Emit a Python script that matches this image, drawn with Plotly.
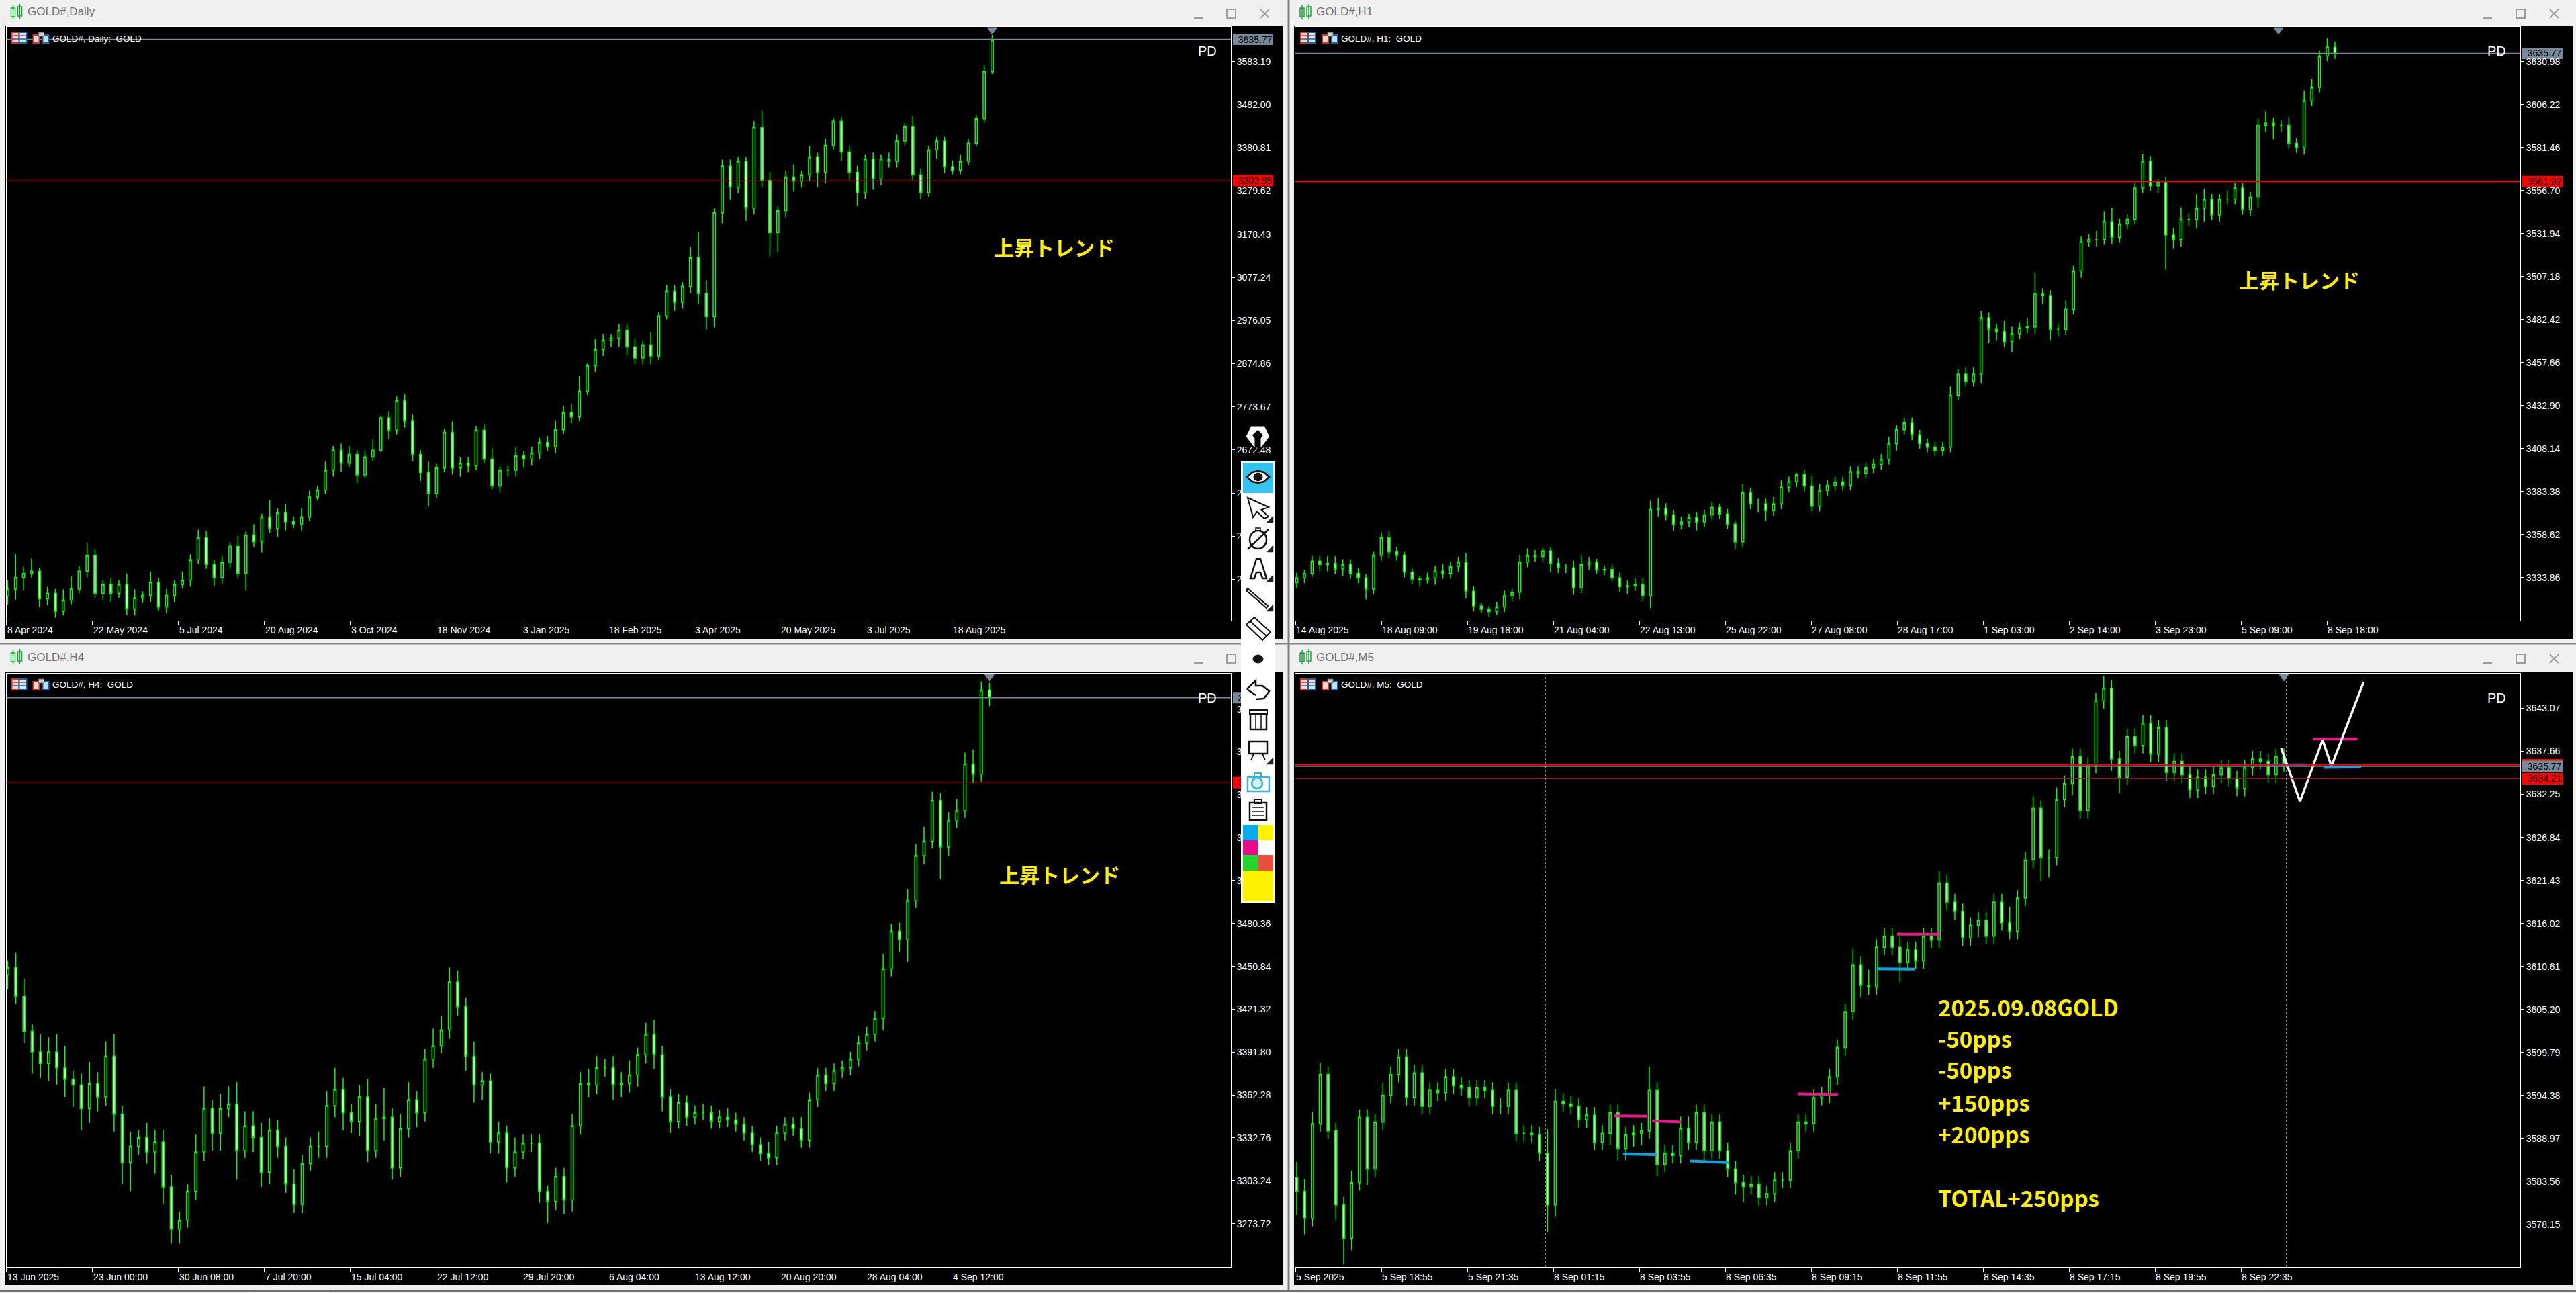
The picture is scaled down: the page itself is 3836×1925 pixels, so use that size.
import plotly.graph_objects as go

W, H = 3836, 1925

# ---------- DAILY ----------
daily_close = [
 2346,2373,2383,2388,2323,2336,2294,2320,2346,2388,
 2425,2336,2357,2336,2357,2299,2325,2331,2362,2304,
 2331,2357,2367,2415,2467,2404,2373,2409,2446,2383,
 2473,2457,2515,2488,2525,2504,2499,2515,2562,2578,
 2625,2672,2641,2662,2614,2656,2672,2748,2719,2788,
 2740,2662,2620,2570,2630,2714,2630,2641,2635,2719,
 2651,2588,2625,2625,2659,2651,2665,2690,2680,2720,
 2760,2750,2810,2870,2908,2930,2935,2953,2914,2888,
 2919,2893,2987,3045,3019,3056,3124,3040,2985,3229,
 3339,3289,3350,3240,3429,3305,3182,3234,3313,3303,
 3318,3360,3324,3387,3444,3371,3324,3276,3355,3308,
 3355,3350,3397,3431,3318,3276,3376,3397,3337,3329,
 3350,3392,3450,3560,3634]
daily_up = [
 20,55,15,30,8,15,10,25,30,12,
 30,15,10,15,10,25,20,10,25,10,
 15,10,20,12,18,15,10,15,10,25,
 10,25,8,40,10,20,12,20,15,10,
 20,10,15,20,10,15,25,5,15,10,
 15,15,10,25,10,8,25,15,15,10,
 15,25,8,10,20,10,15,10,15,20,
 15,20,35,5,25,15,10,15,15,20,
 10,30,10,15,15,10,25,60,30,10,
 15,15,10,10,15,40,20,10,15,30,
 10,25,10,15,8,10,15,15,10,15,
 10,15,15,8,25,15,10,10,10,15,
 15,10,8,15,12]
daily_down = [
 20,25,30,10,20,15,15,10,10,10,
 15,10,15,20,10,15,15,10,15,8,
 15,15,10,15,10,10,20,15,15,10,
 40,12,25,10,20,20,10,15,10,8,
 10,15,20,10,20,8,10,5,20,10,
 15,15,20,30,10,10,15,20,15,10,
 10,8,15,15,15,20,15,15,10,15,
 10,15,10,8,15,15,15,20,20,15,
 15,20,10,8,20,15,15,25,30,25,
 25,30,15,30,15,15,55,45,15,25,
 15,15,35,25,10,20,20,30,15,25,
 15,15,15,10,15,15,10,20,15,10,
 10,10,8,10,5]
daily_yticks = [3583.19,3482.00,3380.81,3279.62,3178.43,3077.24,2976.05,2874.86,2773.67,2672.48,2571.29,2470.10,2368.91]
daily_xlabels = ["8 Apr 2024","22 May 2024","5 Jul 2024","20 Aug 2024","3 Oct 2024","18 Nov 2024","3 Jan 2025","18 Feb 2025","3 Apr 2025","20 May 2025","3 Jul 2025","18 Aug 2025"]

# ---------- H1 ----------
h1_close = [
 3333.8,3336.3,3343.4,3341.5,3342.1,3338.9,3341.5,3336.3,3333.8,3327.3,
 3346.7,3357,3348.6,3346.7,3337,3333.1,3332.5,3333.8,3337.6,3336.3,
 3340.2,3342.8,3326,3317.6,3315.7,3314.4,3317,3323.4,3325.4,3342.8,
 3346.7,3346,3349.2,3342.1,3339.6,3339.6,3328,3341.5,3342.8,3338.3,
 3338.6,3333.8,3328.6,3329.2,3329.9,3323.4,3373.1,3373.7,3369.9,3364.7,
 3366,3368.6,3366,3369.9,3374.4,3370.5,3364.7,3354.4,3382.8,3376.3,
 3376.3,3372.4,3376.3,3386,3389.2,3393.1,3386.6,3375,3384,3387,
 3389,3387,3395,3394,3397,3399,3402,3411,3419,3423,
 3416,3411,3409,3407,3409,3439,3451,3447,3451,3483.4,
 3476.9,3475.6,3469.8,3474.3,3477.6,3478.2,3497.5,3496.3,3476.9,3476.9,
 3488.5,3510.4,3527.2,3528.5,3528.5,3538.8,3529.8,3537.5,3540.1,3558.2,
 3573.6,3559.4,3561.4,3531.1,3528.5,3540.1,3540.1,3546.6,3551.7,3542.7,
 3551.7,3551.7,3558.2,3545.9,3553,3594.3,3595.6,3594.3,3594.3,3583.9,
 3581.4,3608.4,3616.2,3634.2,3639.4,3635.5]
h1_up = [
 3,2,3,3,4,4,3,3,3,2,
 2,3,4,3,2,2,2,3,3,4,
 3,3,5,3,2,2,3,3,2,4,
 4,3,2,2,3,2,4,5,3,2,
 2,3,3,3,4,4,5,6,3,3,
 3,2,3,3,3,2,3,2,5,3,
 3,3,4,4,3,1,3,6,4,3,
 3,3,3,3,3,3,3,4,3,3,
 3,3,3,3,3,5,3,4,4,4,
 3,3,6,4,3,5,12,3,3,3,
 5,3,3,3,5,6,8,3,3,3,
 4,3,2,3,4,7,3,8,6,3,
 3,5,3,3,3,4,7,3,3,5,
 3,6,5,3,5,3]
h1_down = [
 3,3,2,4,4,3,4,3,3,6,
 3,3,3,3,3,3,4,2,4,3,
 3,3,4,3,2,3,2,3,3,4,
 3,3,3,5,3,3,4,3,3,2,
 3,2,3,4,3,3,7,4,3,4,
 3,3,5,3,3,3,3,4,3,3,
 5,6,3,3,3,3,3,3,3,3,
 3,3,3,3,3,3,3,3,4,3,
 3,3,3,3,3,3,3,3,3,5,
 8,5,3,6,3,3,4,5,6,4,
 3,3,4,3,4,3,4,3,3,3,
 3,3,4,20,5,4,4,5,8,3,
 4,3,3,3,4,6,4,8,4,3,
 3,4,3,3,3,3]
h1_yticks = [3630.98,3606.22,3581.46,3556.70,3531.94,3507.18,3482.42,3457.66,3432.90,3408.14,3383.38,3358.62,3333.86]
h1_xlabels = ["14 Aug 2025","18 Aug 09:00","19 Aug 18:00","21 Aug 04:00","22 Aug 13:00","25 Aug 22:00","27 Aug 08:00","28 Aug 17:00","1 Sep 03:00","2 Sep 14:00","3 Sep 23:00","5 Sep 09:00","8 Sep 18:00"]

# ---------- H4 ----------
h4_close = [
 3450,3430,3406,3392,3384,3392,3381,3373,3369,3353,
 3370,3361,3389,3349,3316,3327,3333,3323,3330,3299,
 3270,3276,3296,3323,3353,3336,3353,3356,3324,3341,
 3333,3309,3338,3327,3301,3287,3315,3327,3327,3355,
 3366,3350,3344,3361,3324,3346,3347,3312,3339,3359,
 3350,3387,3396,3407,3440,3423,3389,3369,3372,3330,
 3336,3312,3323,3329,3329,3296,3289,3306,3290,3341,
 3370,3369,3381,3381,3369,3370,3376,3390,3404,3390,
 3361,3344,3357,3347,3350,3350,3344,3347,3345,3342,
 3336,3328,3322,3319,3336,3342,3339,3331,3359,3376,
 3370,3379,3381,3387,3398,3404,3415,3449,3475,3469,
 3496,3527,3537,3565,3533,3551,3558,3590,3583,3641,
 3636]
h4_up = [
 5,10,12,5,12,10,12,15,6,8,
 15,8,10,15,6,10,5,10,8,8,
 8,6,5,12,15,6,10,12,15,10,
 10,10,8,7,6,10,6,6,10,10,
 15,8,6,8,12,10,20,6,10,12,
 6,7,12,10,10,8,6,10,6,5,
 8,5,10,6,6,6,4,6,6,8,
 8,10,8,6,8,8,10,5,8,10,
 6,5,6,5,5,6,5,5,6,5,
 5,5,5,8,5,5,5,8,5,5,
 5,5,5,5,5,5,5,10,5,6,
 8,8,10,6,5,6,8,8,10,6,
 5]
h4_down = [
 10,5,8,15,10,12,12,12,15,15,
 10,10,6,12,15,20,6,8,15,12,
 10,10,5,6,6,12,12,6,20,5,
 10,10,8,8,6,6,6,5,8,8,
 8,12,8,10,8,5,15,8,6,6,
 10,6,6,5,6,6,10,12,10,8,
 8,10,6,5,6,8,15,6,10,8,
 6,8,6,6,10,8,6,8,6,10,
 10,8,5,6,5,5,5,5,5,5,
 5,5,5,5,5,5,5,5,5,5,
 5,5,5,5,5,5,5,8,5,8,
 15,5,6,5,22,6,5,5,6,5,
 6]
h4_yticks = [3627.96,3598.44,3568.92,3539.40,3509.88,3480.36,3450.84,3421.32,3391.80,3362.28,3332.76,3303.24,3273.72]
h4_xlabels = ["13 Jun 2025","23 Jun 00:00","30 Jun 08:00","7 Jul 20:00","15 Jul 04:00","22 Jul 12:00","29 Jul 20:00","6 Aug 04:00","13 Aug 12:00","20 Aug 20:00","28 Aug 04:00","4 Sep 12:00"]

# ---------- M5 ----------
m5_close = [
 3582.3,3578.9,3590.8,3597,3589.9,3580.6,3576.4,3583.4,3591.6,3585.1,
 3591,3594.4,3597,3599.2,3594.1,3597.2,3593,3595,3594.7,3596.7,
 3595.6,3595.3,3594.1,3595.3,3595,3593,3593,3595,3589.6,3589.6,
 3589.4,3587.1,3580.6,3593.6,3593.3,3593,3591.3,3591.9,3588.5,3589.6,
 3592.2,3587.7,3589.4,3589.6,3589.9,3595,3585.7,3587.1,3586.8,3590.2,
 3588.5,3592.2,3587.4,3591,3587.4,3585.1,3583.4,3582.9,3583.2,3581.5,
 3582,3583.7,3583.7,3587.4,3591,3590.8,3594.1,3594.4,3596.7,3600.4,
 3604.9,3610.8,3608.2,3608,3613,3614.4,3613,3611.1,3612.7,3611.3,
 3614.4,3613.9,3621.1,3618.7,3617.5,3614.2,3615.8,3616.4,3614.4,3618.7,
 3616.1,3615,3619.2,3624,3630.5,3624.3,3624.3,3631.6,3633.6,3637,
 3630.2,3635.9,3644,3645.6,3636.7,3634.4,3639.5,3638.4,3641.2,3637.3,
 3640.6,3635,3636.4,3634.7,3632.8,3634.4,3633.3,3634.7,3635.6,3634.2,
 3633,3635.6,3636.7,3636.4,3634.7,3637,3636.1]
m5_up = [
 2,1.5,1.5,1.5,1,1,1,1.5,1,1,
 1,1.5,1,1,1,1,1,1,1,1,
 1,1,1,1,1,1,1,1,1,1,
 1,1,3,1.5,1,1,1,1,1,1,
 1,1,1,1,1,3,1,1,1,1.5,
 1.5,1,1,1,1,1,1,1,1,1,
 1,1,1,1,1,1,1,1,1,1,
 1,2,1,2,1,1,1,2,1,1,
 1,1,1.5,1,1,1,1,1,1,1,
 1,2,1,1,1.5,1,1,1.5,1,1,
 1,1,1,1.5,1,1,1,1,1,1,
 1,1,1,1,1,1,1,1,1,1,
 1,1,1,1,1,1,1]
m5_down = [
 3,2,1,1,1,2,3.3,1.5,1,2,
 1,1,1,1,1,1,1,1,1,1,
 1,1,1,1,1,1,1,1,1,1,
 1,1,3.4,1.5,1,1,1,1,1,1,
 1.5,1.5,1.5,1.5,1.5,1,1.5,1,1,1,
 1,1,1.5,1,1,1,1.5,2,1,1,
 1,1,1,1,1,1,1,1,1,1,
 1,1,1.5,1,1,1,1,2.5,1,1,
 1,1,1,1,1,1,1,1.5,1,1,
 1,1,1,1,1,3,2.5,1,1,1.5,
 1,1,1,1,1.5,2,1,1,1,1,
 1,1,1,1,1,1,1,1,1,1,
 1,1,1,1,1,1,1]
m5_yticks = [3643.07,3637.66,3632.25,3626.84,3621.43,3616.02,3610.61,3605.20,3599.79,3594.38,3588.97,3583.56,3578.15]
m5_xlabels = ["5 Sep 2025","5 Sep 18:55","5 Sep 21:35","8 Sep 01:15","8 Sep 03:55","8 Sep 06:35","8 Sep 09:15","8 Sep 11:55","8 Sep 14:35","8 Sep 17:15","8 Sep 19:55","8 Sep 22:35"]

# hand-drawn marks on the M5 chart: (bar0, price0, bar1, price1)
pink_marks = [(118.8,3591.8,131,3591.75),(132.8,3591.15,143.5,3591.0),(187,3594.55,202,3594.5),(224,3614.66,240,3614.66),(378.8,3639.2,395.4,3639.2)]
blue_marks = [(122,3587.0,134.5,3586.9),(147,3586.1,161.5,3585.9),(216.4,3610.3,230.7,3610.25),(363.5,3635.96,376.8,3635.96),(382.8,3635.63,396.8,3635.71)]
zigzag_bars = [367,374,382.4,385.7,397.7]
zigzag_price = [3638.05,3631.35,3639.1,3635.8,3646.4]
m5_separators = [93,369]

# panel facts
BARS_PER_TICK = 32
panels = [
 dict(ax="",  over="5", name="GOLD#,Daily", hdr="GOLD#, Daily:  GOLD", box=(9.5,40,1833,924),  yr=(2271.9,3665.1), c=daily_close,u=daily_up,d=daily_down,yt=daily_yticks,xl=daily_xlabels,last=367,bid=3635.77,red=3304.0,redtxt="3303.95",first=2330,tri=367),
 dict(ax="2", over="6", name="GOLD#,H1",    hdr="GOLD#, H1:  GOLD",    box=(1929,40,3753,924), yr=(3309.1,3651.0), c=h1_close,u=h1_up,d=h1_down,yt=h1_yticks,xl=h1_xlabels,last=387,bid=3635.77,red=3561.9,redtxt="3561.92",first=3331,tri=366),
 dict(ax="3", over="7", name="GOLD#,H4",    hdr="GOLD#, H4:  GOLD",    box=(9.5,1003,1833,1887),yr=(3243.5,3652.3),c=h4_close,u=h4_up,d=h4_down,yt=h4_yticks,xl=h4_xlabels,last=366,bid=3635.77,red=3577.3,redtxt="3577.30",first=3445,tri=366),
 dict(ax="4", over="8", name="GOLD#,M5",    hdr="GOLD#, M5:  GOLD",    box=(1929,1003,3753,1887),yr=(3572.71,3647.43),c=m5_close,u=m5_up,d=m5_down,yt=m5_yticks,xl=m5_xlabels,last=368,bid=3635.77,red=3634.21,redtxt="3634.21",first=3584,tri=368),
]

fx = lambda x: x / W
fy = lambda y: 1 - y / H
shapes, annos = [], []

def rect(x0,y0,x1,y1,fill=None,line=None,w=1,layer="above"):
    shapes.append(dict(type="rect",xref="paper",yref="paper",x0=fx(x0),x1=fx(x1),y0=fy(y0),y1=fy(y1),
        fillcolor=fill if fill else "rgba(0,0,0,0)",line=dict(color=line if line else "rgba(0,0,0,0)",width=w if line else 0),layer=layer))
def seg(x0,y0,x1,y1,color="#000",w=1,layer="above"):
    shapes.append(dict(type="line",xref="paper",yref="paper",x0=fx(x0),x1=fx(x1),y0=fy(y0),y1=fy(y1),line=dict(color=color,width=w),layer=layer))
def poly(pts,fill=None,line="#000",w=2,close=True,layer="above"):
    p="M"+" L".join(f"{fx(a):.6f},{fy(b):.6f}" for a,b in pts)+(" Z" if close else "")
    shapes.append(dict(type="path",xref="paper",yref="paper",path=p,fillcolor=fill if fill else "rgba(0,0,0,0)",line=dict(color=line,width=w),layer=layer))
def oval(x0,y0,x1,y1,fill=None,line="#000",w=2,layer="above"):
    shapes.append(dict(type="circle",xref="paper",yref="paper",x0=fx(x0),x1=fx(x1),y0=fy(y0),y1=fy(y1),fillcolor=fill if fill else "rgba(0,0,0,0)",line=dict(color=line,width=w),layer=layer))
def text(x,y,t,size=14,color="#fff",fam="Liberation Sans",anchor="left"):
    annos.append(dict(xref="paper",yref="paper",x=fx(x),y=fy(y),text=t,showarrow=False,xanchor=anchor,yanchor="middle",
        font=dict(family=fam,size=size,color=color),borderpad=0,borderwidth=0))

# window chrome: black client areas on the light frame
LIGHT="#f0f0f0"
for bx in [(7,38,1911,951),(1927,38,3831,951),(7,1000,1911,1913),(1927,1000,3831,1913)]:
    rect(*bx,fill="#000",layer="below")
seg(1919,0,1919,1921,"#808080",3,"below")
seg(0,958.5,3836,958.5,"#808080",2,"below")
seg(0,1922,3836,1922,"#707070",2,"below")
rect(370,1923,490,1925,fill="#fff",layer="below")

fig = go.Figure()
layout = {}
for p in panels:
    L,T,R,B = p["box"]
    ax = p["ax"]
    xname, yname = "x"+ax, "y"+ax
    o = [p["first"]] + p["c"][:-1]
    n = len(p["c"])
    bars = [0.5 + (p["last"]-0.5)*i/(n-1) for i in range(n)]
    hi = [max(a,b)+u for a,b,u in zip(o,p["c"],p["u"])]
    lo = [min(a,b)-d for a,b,d in zip(o,p["c"],p["d"])]
    fig.add_trace(go.Candlestick(x=bars,open=o,high=hi,low=lo,close=p["c"],xaxis=xname,yaxis=yname,
        increasing=dict(line=dict(color="#00ff00",width=1.5),fillcolor="#000000"),
        decreasing=dict(line=dict(color="#00ff00",width=1.5),fillcolor="#e8ffe8"),
        whiskerwidth=0,hoverinfo="skip",showlegend=False))
    nbars = (R-L)/4
    tv = [k*BARS_PER_TICK for k in range(len(p["xl"]))]
    layout["xaxis"+ax] = dict(domain=[fx(L),fx(R)],range=[0,nbars],anchor=yname,showgrid=False,zeroline=False,
        showline=True,mirror=True,linecolor="#fff",linewidth=1,ticks="outside",ticklen=5,tickcolor="#fff",tickwidth=1,
        tickmode="array",tickvals=tv,showticklabels=False,rangeslider=dict(visible=False),fixedrange=True)
    layout["yaxis"+ax] = dict(domain=[fy(B),fy(T)],range=list(p["yr"]),anchor=xname,side="right",showgrid=False,zeroline=False,
        showline=True,mirror=True,linecolor="#fff",linewidth=1,ticks="outside",ticklen=5,tickcolor="#fff",tickwidth=1,
        tickmode="array",tickvals=p["yt"],ticktext=[f"{v:.2f}" for v in p["yt"]],
        tickfont=dict(family="Liberation Sans",size=14,color="#fff"),fixedrange=True)
    # black price labels sit on an overlay axis so the toolbar can cover them
    ov = p["over"]
    layout["yaxis"+ov] = dict(overlaying=yname,domain=[fy(B),fy(T)],range=list(p["yr"]),anchor=xname,side="right",showgrid=False,zeroline=False,
        showline=False,ticks="outside",ticklen=7,tickcolor="rgba(0,0,0,0)",tickmode="array",
        tickvals=[p["bid"],p["red"]],ticktext=[f'{p["bid"]:.2f}',p["redtxt"]],
        tickfont=dict(family="Liberation Sans",size=14,color="#000"),fixedrange=True)
    fig.add_trace(go.Scatter(x=[1],y=[p["bid"]],mode="markers",marker=dict(opacity=0,size=1),xaxis=xname,yaxis="y"+ov,hoverinfo="skip",showlegend=False))
    # x labels, left-aligned on their ticks
    for k,lab in zip(tv,p["xl"]):
        annos.append(dict(xref=xname,yref="paper",x=k,y=fy(B+14),text=lab,showarrow=False,xanchor="left",yanchor="middle",
            xshift=-1,font=dict(family="Liberation Sans",size=14,color="#fff")))
    # price lines
    shapes.append(dict(type="line",xref=xname+" domain",yref=yname,x0=0,x1=1,y0=p["bid"],y1=p["bid"],line=dict(color="#778899",width=1.5),layer="above"))
    shapes.append(dict(type="line",xref=xname+" domain",yref=yname,x0=0,x1=1,y0=p["red"],y1=p["red"],line=dict(color="#e00000",width=1),layer="above"))
    # price boxes
    ppx = (B-T)/(p["yr"][1]-p["yr"][0])
    yb = T+(p["yr"][1]-p["bid"])*ppx
    yr_ = T+(p["yr"][1]-p["red"])*ppx
    bx0,bx1 = R+3,R+63
    if ax=="4":
        rect(bx0,yb-11,bx1,yb+6,fill="#ff0000",layer="below")
    rect(bx0,yb-8.5,bx1,yb+8.5,fill="#778899",layer="below")
    rect(bx0,yr_-8.5,bx1,yr_+8.5,fill="#ff0000",layer="below")
    # last-bar triangle
    poly([(L+p["tri"]*4-7,T+1),(L+p["tri"]*4+7,T+1),(L+p["tri"]*4,T+11)],fill="#778899",line="#778899",w=1)
    # PD
    text(R-21,T+36,"PD",size=20,anchor="right")
    # header
    text(L+68,T+17,p["hdr"],size=13.5)
    ix = L+8
    iy = T+8
    rect(ix,iy,ix+11,iy+16,fill="#ffd5d0",line="#d0352b",w=2)
    rect(ix+11,iy,ix+22,iy+16,fill="#d5e9fb",line="#1565b0",w=2)
    for dy in (5,10):
        seg(ix,iy+dy,ix+22,iy+dy,"#d0352b" if dy==5 else "#1565b0",1.5)
    rect(ix+32,iy+4,ix+41,iy+16,fill="#ffd5d0",line="#d0352b",w=2)
    rect(ix+46,iy+4,ix+55,iy+16,fill="#bfe0fb",line="#1565b0",w=2)
    rect(ix+40,iy,ix+48,iy+6,fill="#cfcfcf",line="#666666",w=1)
    # title bar
    tbar = 0 if T<100 else 960
    cx = L-1
    for off,(a,b) in zip((8,18),((12,25),(10,24))):
        rect(cx+off,tbar+a,cx+off+6,tbar+b,fill="#fff",line="#10a830",w=1.5,layer="below")
        seg(cx+off+3,tbar+a-4,cx+off+3,tbar+b+4,"#10a830",1.5,"below")
    text(L+31,tbar+18,p["name"],size=17,color="#707070")
    # window buttons
    xb = 1783 if ax in ("","3") else 3703
    ym = tbar+27
    seg(xb-5,ym,xb+8,ym,"#a0a0a0",2,"below")
    rect(xb+44,ym-13,xb+57,ym,line="#a0a0a0",w=2,layer="below")
    seg(xb+94,ym-13,xb+107,ym,"#a0a0a0",2,"below")
    seg(xb+107,ym-13,xb+94,ym,"#a0a0a0",2,"below")

# M5 extra lines and marks
shapes.append(dict(type="line",xref="x4 domain",yref="y4",x0=0,x1=1,y0=3635.96,y1=3635.96,line=dict(color="#ff0000",width=2),layer="above"))
shapes.append(dict(type="line",xref="x2 domain",yref="y2",x0=0,x1=1,y0=3561.9,y1=3561.9,line=dict(color="#ff0000",width=2),layer="above"))
for b in m5_separators:
    shapes.append(dict(type="line",xref="x4",yref="y4 domain",x0=b,x1=b,y0=0,y1=1,line=dict(color="#ffffff",width=1,dash="3px,3px"),layer="above"))
for marks,col in ((blue_marks,"#00a8e8"),(pink_marks,"#f0148c")):
    for a,b,c,d in marks:
        fig.add_trace(go.Scatter(x=[a,c],y=[b,d],mode="lines",line=dict(color=col,width=4),xaxis="x4",yaxis="y4",hoverinfo="skip",showlegend=False))
fig.add_trace(go.Scatter(x=zigzag_bars,y=zigzag_price,mode="lines",line=dict(color="#ffffff",width=3.5),xaxis="x4",yaxis="y4",hoverinfo="skip",showlegend=False))

# big yellow notes
YEL="#fff000"; JP="Noto Sans CJK JP"
for x,y in ((1570,367),(3424,416),(1578,1301)):
    text(x,y,"<b>上昇トレンド</b>",size=30,color=YEL,fam=JP,anchor="center")
for y,t in ((1499,"2025.09.08GOLD"),(1546,"-50pps"),(1592,"-50pps"),(1641,"+150pps"),(1688,"+200pps"),(1783,"TOTAL+250pps")):
    text(2886,y,"<b>"+t+"</b>",size=33,color=YEL,fam=JP)

# floating drawing toolbar
poly([(1862,633),(1884,633),(1892,650),(1880,666),(1876,668),(1876,652),(1879,648),(1873,642),(1867,648),(1870,652),(1870,668),(1866,666),(1854,650)],fill="#fff",line="#000",w=3)
rect(1848,686,1899,1345,fill="#fff")
rect(1851,689,1896,734,fill="#33c3ee")
poly([(1857,710),(1865,703),(1873.5,701),(1882,703),(1890,710),(1882,717),(1873.5,719),(1865,717)],fill="#fff",line="#111",w=2.5)
oval(1867,704,1880,716,fill="#111",line="#111",w=1)
poly([(1858,741),(1889,755),(1878,759),(1889,769),(1883,772),(1872,762),(1866,770)],fill="#fff",line="#111",w=2)
oval(1861,790,1886,817,fill="#fff",line="#111",w=2.5)
rect(1870,786,1877,790,line="#111",w=1.5)
seg(1858,818,1889,788,"#111",2.5)
poly([(1862,861),(1871,832),(1877,832),(1886,861),(1880,861),(1877,852),(1871,852),(1868,861)],fill="#fff",line="#111",w=2.5)
poly([(1858,876),(1888,902),(1886,905),(1856,879)],fill="#fff",line="#111",w=2)
poly([(1856,930),(1868,919),(1892,941),(1880,953)],fill="#fff",line="#111",w=2)
seg(1862,925,1886,947,"#111",2)
oval(1866,975,1881,987,fill="#111",line="#111",w=1)
poly([(1857,1026),(1870,1013),(1870,1021),(1880,1021),(1890,1029),(1882,1040),(1870,1041)],line="#111",w=2.5,close=False)
seg(1857,1026,1870,1035,"#111",2.5)
rect(1862,1063,1886,1086,line="#111",w=2.5)
rect(1861,1057,1887,1063,line="#111",w=2)
seg(1870,1064,1870,1086,"#111",1.5); seg(1878,1064,1878,1086,"#111",1.5)
rect(1860,1104,1887,1122,line="#111",w=2.5)
seg(1867,1122,1863,1132,"#111",2); seg(1880,1122,1884,1132,"#111",2)
rect(1858,1157,1890,1178,line="#33b5dd",w=2.5)
oval(1864,1158,1880,1174,fill="#d0f0fb",line="#33b5dd",w=2.5)
rect(1868,1151,1878,1157,line="#33b5dd",w=2)
rect(1861,1195,1886,1221,line="#111",w=2.5)
rect(1868,1190,1879,1196,line="#111",w=2)
for yy in (1202,1208,1214):
    seg(1865,yy,1882,yy,"#111",1.5)
for yy in (778,822,866,910,1138):
    poly([(1886,yy),(1896,yy),(1896,yy-10)],fill="#222",line="#222",w=0.5)
for x0,x1,y0,y1,c in ((1851,1873.5,1228,1251,"#00adef"),(1873.5,1896,1228,1251,"#fff200"),
                      (1851,1873.5,1251,1273,"#ec0a8c"),(1873.5,1896,1251,1273,"#ffffff"),
                      (1851,1873.5,1273,1296,"#22d630"),(1873.5,1896,1273,1296,"#e94f3d"),
                      (1851,1896,1296,1342,"#fff200")):
    rect(x0,y0,x1,y1,fill=c)

fig.update_layout(width=W,height=H,margin=dict(l=0,r=0,t=0,b=0),paper_bgcolor=LIGHT,plot_bgcolor="#000",
    boxmode="overlay",boxgap=0.72,boxgroupgap=0,
    shapes=shapes,annotations=annos,showlegend=False,dragmode=False,**layout)
fig.write_html("out.html",config=dict(displayModeBar=False,staticPlot=True),
    post_script="document.body.style.margin='0';document.documentElement.style.overflow='hidden';")
